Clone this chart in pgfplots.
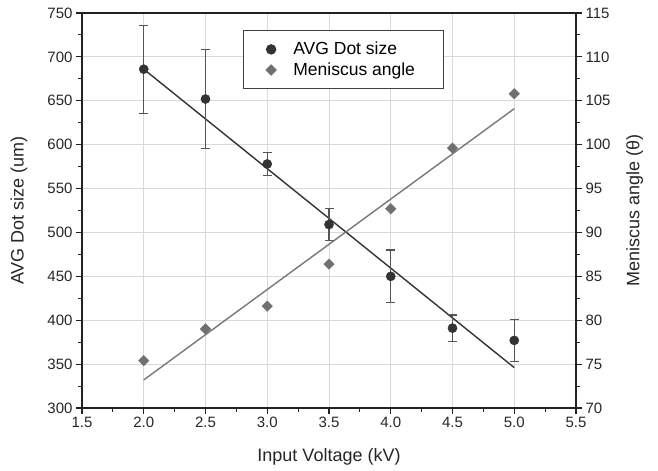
\documentclass[border=0pt]{standalone}
\usepackage{fontspec}
\setmainfont{Liberation Sans}
\usepackage{pgfplots}
\pgfplotsset{compat=1.18}

\definecolor{axc}{HTML}{222222}
\definecolor{gridc}{HTML}{D9D9D9}
\definecolor{dotc}{HTML}{333333}
\definecolor{errc}{HTML}{555555}
\definecolor{menc}{HTML}{707070}
\definecolor{menl}{HTML}{787878}

\pgfplotsset{
  base/.style={
    width=494bp, height=395bp, scale only axis,
    xmin=1.5, xmax=5.5,
    tick align=outside,
    major tick length=6bp, minor tick length=3.5bp,
    tick style={draw=axc, line width=1.1bp},
    axis line style={draw=axc, line width=1.5bp},
    /pgf/number format/assume math mode=true,
    tick label style={font=\fontsize{15bp}{18bp}\selectfont, text=black!85},
    label style={font=\fontsize{18bp}{21bp}\selectfont, text=black!85},
  }
}

\begin{document}
\begin{tikzpicture}
\path[use as bounding box] (-82bp,-63bp) rectangle (576bp,408bp);

% left axis: dot size
\begin{axis}[base,
  ymin=300, ymax=750,
  xtick distance=0.5, ytick distance=50,
  minor x tick num=1, minor y tick num=1,
  xtick pos=bottom, ytick pos=left,
  grid=major, major grid style={draw=gridc, line width=0.8bp},
  xticklabel style={/pgf/number format/.cd, fixed, fixed zerofill, precision=1},
  xlabel={Input Voltage (kV)},
  ylabel={AVG Dot size (um)},
  xlabel style={at={(axis description cs:0.5,-0.124)}, anchor=center},
  ylabel style={at={(axis description cs:-0.1275,0.5)}, anchor=center},
]
% linear fit
\addplot[draw=dotc, line width=1.4bp, no marks] coordinates {(2.0,686) (5.0,346)};
\addplot[only marks, mark=*, mark size=4.6bp, mark options={fill=dotc, draw=dotc},
  error bars/.cd, y dir=both, y explicit,
  error bar style={draw=errc, line width=1.1bp},
  error mark options={draw=errc, line width=1.1bp, mark size=4.5bp, rotate=90}]
  coordinates {
  (2.0,686) +- (0,50)
  (2.5,652) +- (0,56)
  (3.0,578) +- (0,13.5)
  (3.5,509) +- (0,18)
  (4.0,450) +- (0,30)
  (4.5,391) +- (0,15)
  (5.0,377) +- (0,24)
};
\end{axis}

% right axis: meniscus angle
\begin{axis}[base,
  ymin=70, ymax=115,
  ytick distance=5, minor y tick num=1,
  axis y line*=right, axis x line=none,
  ylabel={Meniscus angle (θ)},
  ylabel style={at={(axis description cs:1.119,0.5)}, anchor=center, rotate=0},
  legend style={at={(axis description cs:0.3259,0.9559)}, anchor=north west,
    draw=black!75, line width=0.8bp, font=\fontsize{17.5bp}{20bp}\selectfont,
    inner xsep=22.5bp, inner ysep=9.5bp, row sep=2.5bp,
    /tikz/every odd column/.append style={column sep=15bp}},
  legend cell align=left,
]
\addlegendimage{only marks, mark=*, mark size=4.8bp, mark options={fill=dotc, draw=dotc}}
\addlegendentry{AVG Dot size}
\addplot[only marks, mark=square*, mark size=3.7bp, mark options={fill=menc, draw=menc, rotate=45}]
  coordinates {
  (2.0,75.4) (2.5,79.0) (3.0,81.6) (3.5,86.4) (4.0,92.7) (4.5,99.6) (5.0,105.8)
};
\addlegendentry{\makebox[126bp][l]{Meniscus angle}}
\addplot[draw=menl, line width=1.4bp, no marks, forget plot] coordinates {(2.0,73.2) (5.0,104.1)};
\end{axis}
\end{tikzpicture}
\end{document}
